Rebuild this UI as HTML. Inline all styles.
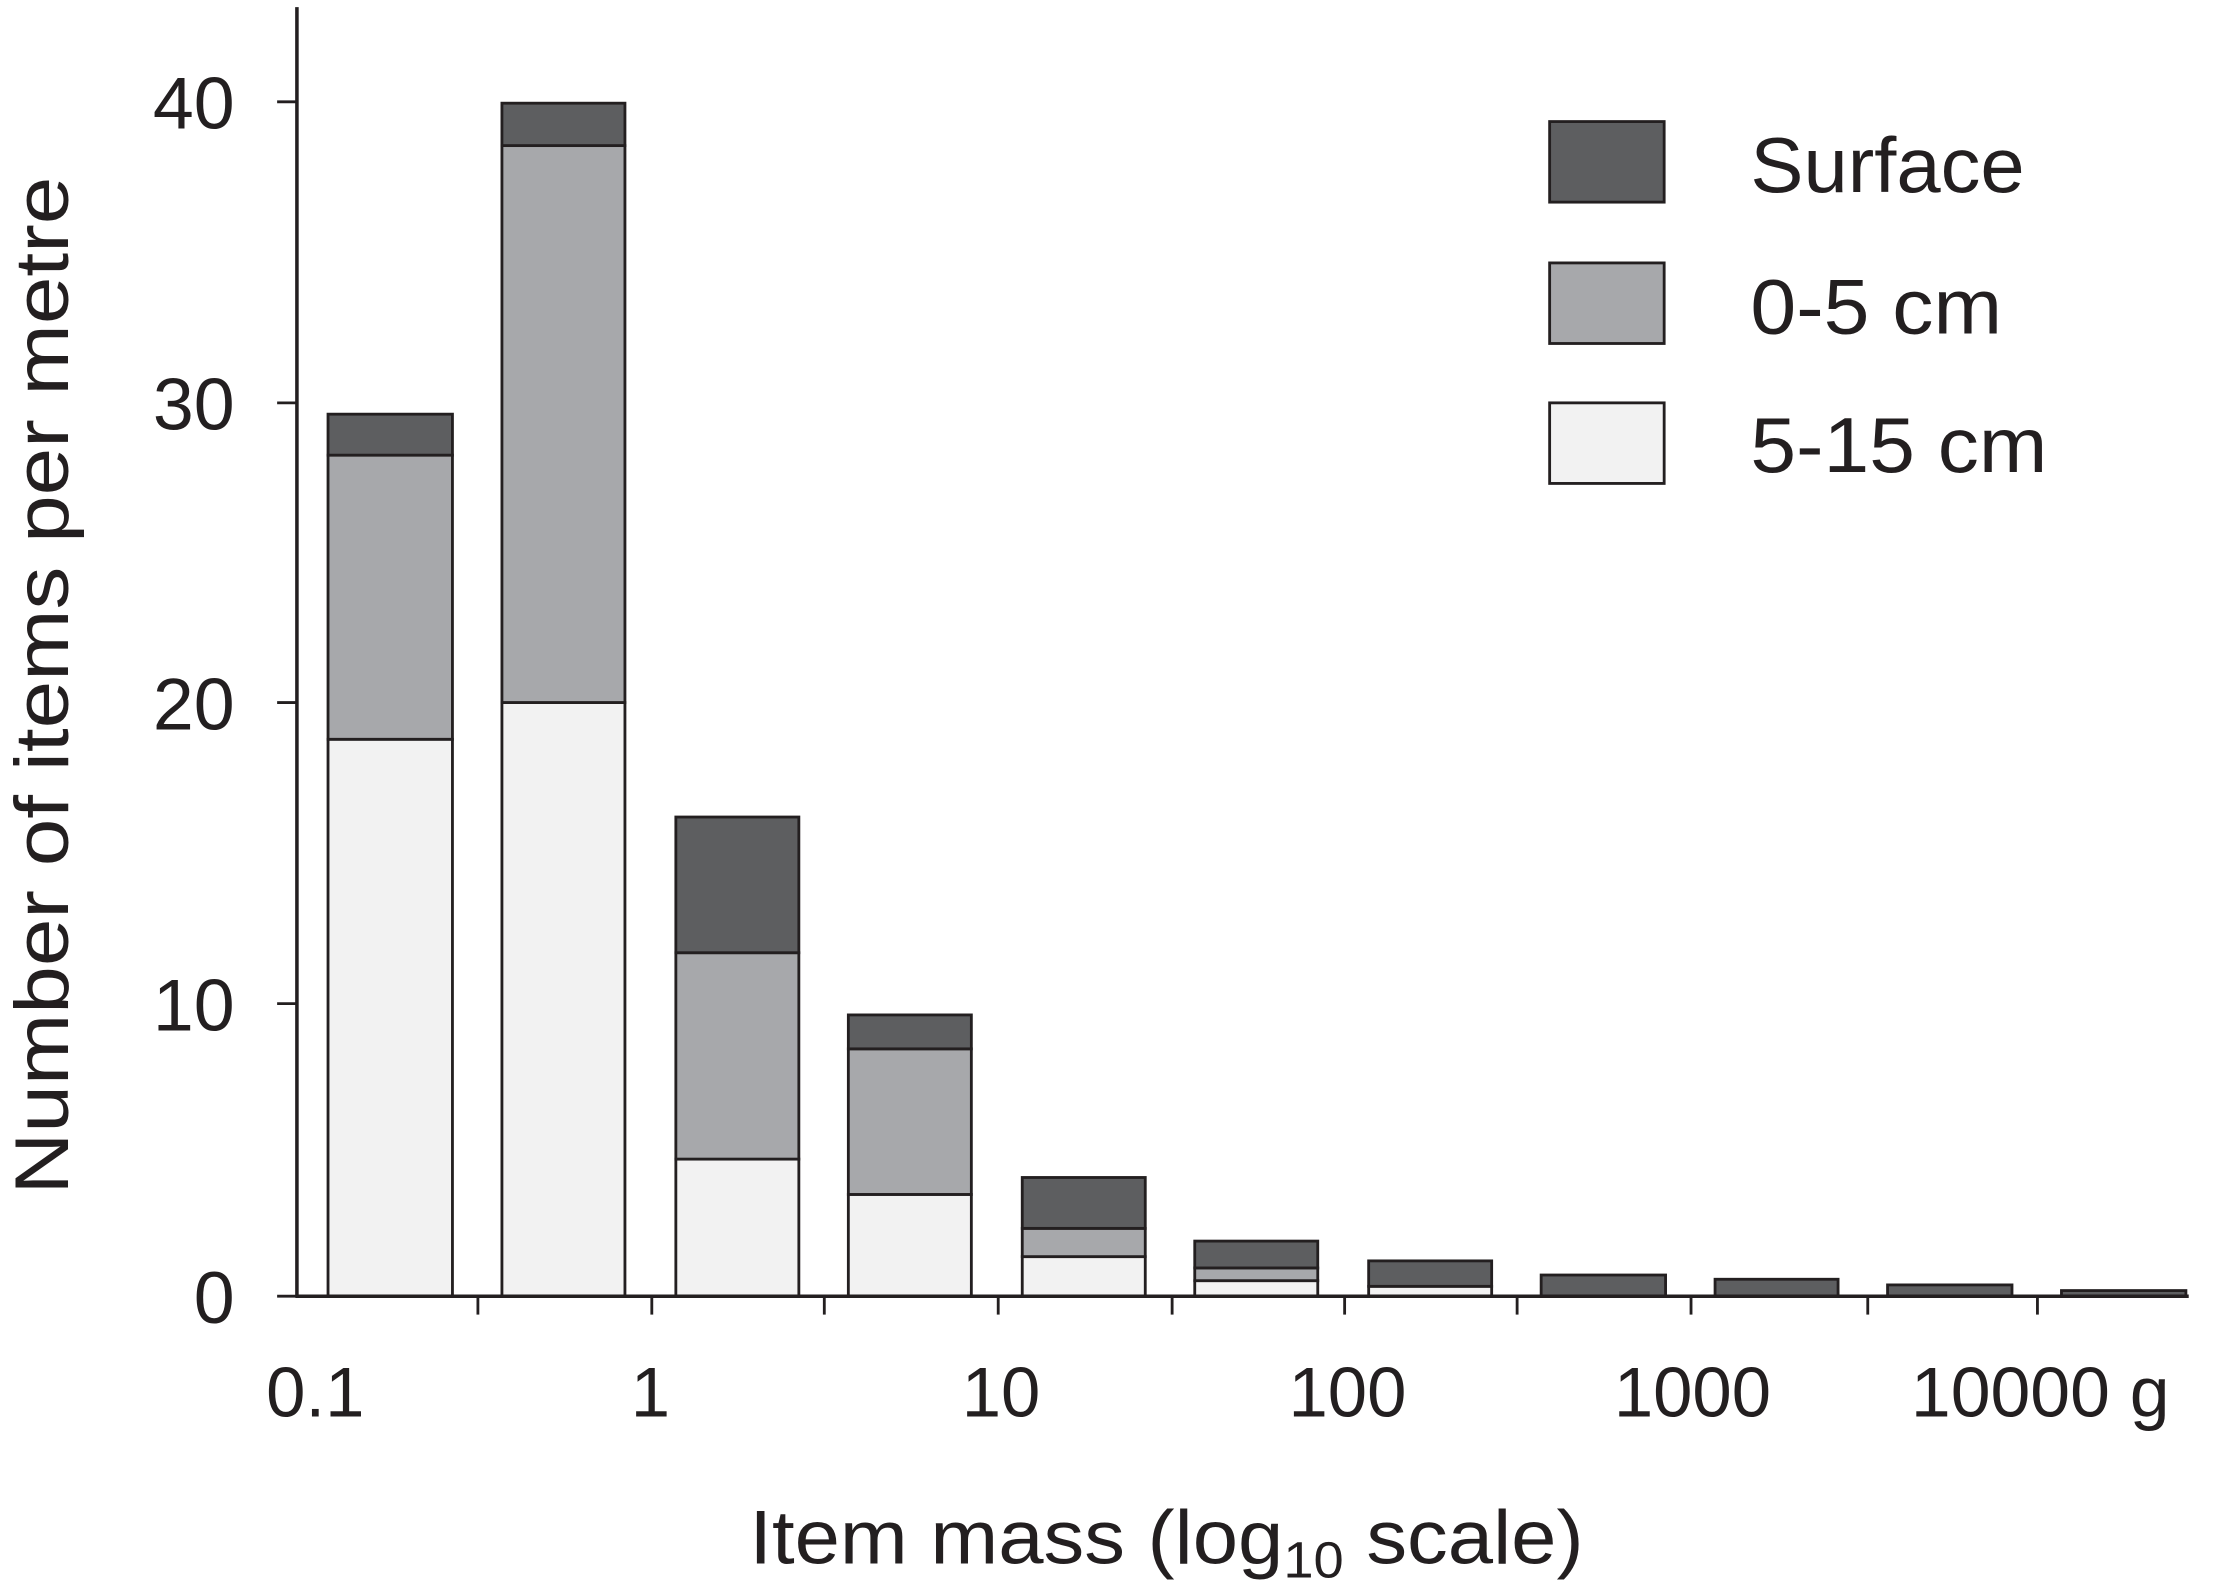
<!DOCTYPE html>
<html><head><meta charset="utf-8"><style>
html,body{margin:0;padding:0;background:#fff;}
svg{display:block;}
text{font-family:"Liberation Sans",sans-serif;fill:#231f20;}
</style></head><body>
<svg width="2217" height="1586" viewBox="0 0 1568 1122" preserveAspectRatio="none" xmlns="http://www.w3.org/2000/svg">
<g stroke="#231f20" stroke-width="2">
<g>
<rect x="232" y="523" width="88" height="394" fill="#f2f2f2"/>
<rect x="232" y="322" width="88" height="201" fill="#a7a8ab"/>
<rect x="232" y="293" width="88" height="29" fill="#5d5e60"/>

<rect x="355" y="497" width="87" height="420" fill="#f2f2f2"/>
<rect x="355" y="103" width="87" height="394" fill="#a7a8ab"/>
<rect x="355" y="73" width="87" height="30" fill="#5d5e60"/>

<rect x="478" y="820" width="87" height="97" fill="#f2f2f2"/>
<rect x="478" y="674" width="87" height="146" fill="#a7a8ab"/>
<rect x="478" y="578" width="87" height="96" fill="#5d5e60"/>

<rect x="600" y="845" width="87" height="72" fill="#f2f2f2"/>
<rect x="600" y="742" width="87" height="103" fill="#a7a8ab"/>
<rect x="600" y="718" width="87" height="24" fill="#5d5e60"/>

<rect x="723" y="889" width="87" height="28" fill="#f2f2f2"/>
<rect x="723" y="869" width="87" height="20" fill="#a7a8ab"/>
<rect x="723" y="833" width="87" height="36" fill="#5d5e60"/>

<rect x="845" y="906" width="87" height="11" fill="#f2f2f2"/>
<rect x="845" y="897" width="87" height="9" fill="#a7a8ab"/>
<rect x="845" y="878" width="87" height="19" fill="#5d5e60"/>

<rect x="968" y="910" width="87" height="7" fill="#f2f2f2"/>
<rect x="968" y="892" width="87" height="18" fill="#5d5e60"/>

<rect x="1090" y="902" width="88" height="15" fill="#5d5e60"/>
<rect x="1213" y="905" width="87" height="12" fill="#5d5e60"/>
<rect x="1335" y="909" width="88" height="8" fill="#5d5e60"/>
<rect x="1458" y="913" width="88" height="4" fill="#5d5e60"/>
</g>
<line x1="210" y1="5" x2="210" y2="918" stroke-width="2.5"/>
<line x1="209" y1="917" x2="1548" y2="917" stroke-width="2.5"/>
<line x1="196" y1="917" x2="210" y2="917"/>
<line x1="196" y1="710" x2="210" y2="710"/>
<line x1="196" y1="497" x2="210" y2="497"/>
<line x1="196" y1="285" x2="210" y2="285"/>
<line x1="196" y1="72" x2="210" y2="72"/>
<line x1="338" y1="917" x2="338" y2="930"/>
<line x1="461" y1="917" x2="461" y2="930"/>
<line x1="583" y1="917" x2="583" y2="930"/>
<line x1="706" y1="917" x2="706" y2="930"/>
<line x1="829" y1="917" x2="829" y2="930"/>
<line x1="951" y1="917" x2="951" y2="930"/>
<line x1="1073" y1="917" x2="1073" y2="930"/>
<line x1="1196" y1="917" x2="1196" y2="930"/>
<line x1="1321" y1="917" x2="1321" y2="930"/>
<line x1="1441" y1="917" x2="1441" y2="930"/>
<rect x="1096" y="86" width="81" height="57" fill="#5d5e60"/>
<rect x="1096" y="186" width="81" height="57" fill="#a7a8ab"/>
<rect x="1096" y="285" width="81" height="57" fill="#f2f2f2"/>
</g>
<g font-size="52" text-anchor="end">
<text x="166" y="936">0</text>
<text x="166" y="729">10</text>
<text x="166" y="516">20</text>
<text x="166" y="304">30</text>
<text x="166" y="91">40</text>
</g>
<g font-size="50" text-anchor="middle">
<text x="223" y="1002">0.1</text>
<text x="460" y="1002">1</text>
<text x="708" y="1002">10</text>
<text x="953" y="1002">100</text>
<text x="1197" y="1002">1000</text>
<text x="1443" y="1002" textLength="183" lengthAdjust="spacingAndGlyphs">10000 g</text>
</g>
<g font-size="55">
<text x="1238" y="136" textLength="194" lengthAdjust="spacingAndGlyphs">Surface</text>
<text x="1238" y="236" textLength="178" lengthAdjust="spacingAndGlyphs">0-5 cm</text>
<text x="1238" y="334" textLength="210" lengthAdjust="spacingAndGlyphs">5-15 cm</text>
</g>
<text x="530" y="1106" font-size="54" textLength="590" lengthAdjust="spacingAndGlyphs">Item mass (log<tspan font-size="36" dy="10">10</tspan><tspan dy="-10"> scale)</tspan></text>
<text transform="translate(48,485) rotate(-90)" font-size="54" text-anchor="middle" textLength="720" lengthAdjust="spacingAndGlyphs">Number of items per metre</text>
</svg>
</body></html>
